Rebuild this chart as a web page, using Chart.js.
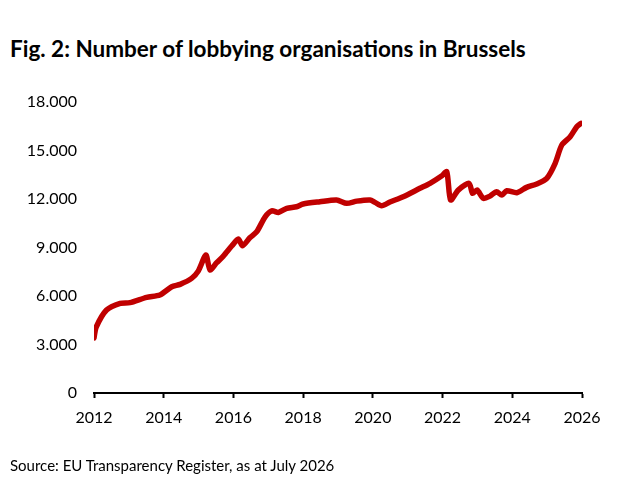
<!DOCTYPE html>
<html>
<head>
<meta charset="utf-8">
<script src="https://cdn.jsdelivr.net/npm/chart.js@4"></script>
<style>
  body { margin: 0; background: #fff; }
  #wrap { position: relative; width: 620px; height: 500px; font-family: Lato, "Open Sans", sans-serif; }
  #title { position: absolute; left: 10px; top: 35px; font-size: 22.5px; font-weight: bold; color: #000; white-space: nowrap; }
  #source { position: absolute; left: 10px; top: 456px; font-size: 15px; color: #000; white-space: nowrap; }
  canvas { position: absolute; left: 0; top: 0; }
</style>
</head>
<body>
<div id="wrap">
  <div id="title">Fig. 2: Number of lobbying organisations in Brussels</div>
  <canvas id="chart" width="620" height="500"></canvas>
  <div id="source">Source: EU Transparency Register, as at July 2026</div>
</div>
<script>
// dates as decimal years, counts
const years = [
  2012.00, 2012.06, 2012.36, 2012.75, 2013.03, 2013.51, 2013.89, 2014.23, 2014.47, 2014.80,
  2014.99, 2015.21, 2015.33, 2015.52, 2015.71, 2015.95, 2016.14, 2016.26, 2016.47, 2016.67,
  2016.91, 2017.10, 2017.29, 2017.53, 2017.81, 2018.00, 2018.48, 2018.96, 2019.25, 2019.54,
  2019.92, 2020.06, 2020.25, 2020.49, 2020.87, 2021.35, 2021.64, 2021.97, 2022.12, 2022.23,
  2022.45, 2022.76, 2022.86, 2022.99, 2023.17, 2023.36, 2023.55, 2023.70, 2023.84, 2024.13,
  2024.41, 2024.70, 2024.99, 2025.23, 2025.42, 2025.66, 2025.85, 2025.97
];
const organisations = [
  3400, 4060, 5130, 5550, 5590, 5920, 6060, 6570, 6720, 7090,
  7540, 8530, 7610, 8060, 8470, 9090, 9520, 9110, 9600, 9980,
  10900, 11270, 11170, 11420, 11520, 11690, 11830, 11940, 11730, 11870,
  11940, 11790, 11580, 11810, 12140, 12660, 12970, 13420, 13690, 11940,
  12550, 12970, 12350, 12550, 12040, 12180, 12450, 12240, 12510, 12390,
  12720, 12930, 13280, 14210, 15340, 15850, 16470, 16680
];
const yTicks = [0, 3000, 6000, 9000, 12000, 15000, 18000];
const xTicks = [2012, 2014, 2016, 2018, 2020, 2022, 2024, 2026];

const points = years.map((y, i) => ({ x: y, y: organisations[i] }));
const fontFamily = 'Lato, "Open Sans", sans-serif';

new Chart(document.getElementById('chart'), {
  type: 'line',
  data: {
    datasets: [{
      data: points,
      borderColor: '#C00000',
      borderWidth: 5.5,
      pointRadius: 0,
      tension: 0.25,
      borderCapStyle: 'round',
      borderJoinStyle: 'round'
    }]
  },
  options: {
    responsive: false,
    animation: false,
    layout: { padding: { left: 10, right: 38, top: 102, bottom: 67 } },
    plugins: { legend: { display: false }, tooltip: { enabled: false } },
    scales: {
      x: {
        type: 'linear',
        min: 2012,
        max: 2026,
        afterBuildTicks: (scale) => { scale.ticks = xTicks.map(v => ({ value: v })); },
        afterFit: (scale) => { scale.height = 40; },
        ticks: {
          callback: (v) => String(v),
          color: '#000',
          font: { family: fontFamily, size: 16 },
          padding: 10,
          maxRotation: 0
        },
        grid: { drawOnChartArea: false, tickLength: 5, tickWidth: 2, tickColor: '#000' },
        border: { color: '#000', width: 2 }
      },
      y: {
        min: 0,
        max: 18000,
        afterBuildTicks: (scale) => { scale.ticks = yTicks.map(v => ({ value: v })); },
        afterFit: (scale) => { scale.width = 84; },
        ticks: {
          callback: (v) => v.toString().replace(/\B(?=(\d{3})+(?!\d))/g, '.'),
          color: '#000',
          font: { family: fontFamily, size: 16 },
          padding: 17
        },
        grid: { display: false, drawTicks: false },
        border: { display: false }
      }
    }
  }
});
</script>
</body>
</html>
